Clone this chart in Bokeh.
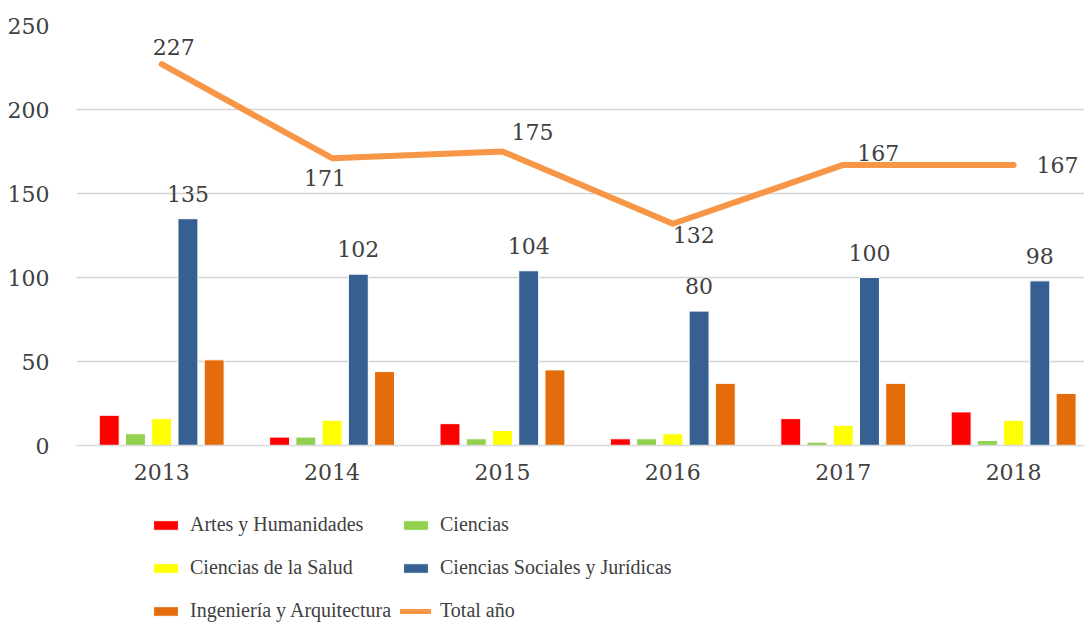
from bokeh.plotting import figure
from bokeh.layouts import column
from bokeh.models import ColumnDataSource, FixedTicker, Legend, LegendItem
from bokeh.transform import dodge
from bokeh.core.properties import value
from bokeh.embed import file_html
from bokeh.resources import INLINE

# ---- data ----
years = ["2013", "2014", "2015", "2016", "2017", "2018"]
artes = [18, 5, 13, 4, 16, 20]
ciencias = [7, 5, 4, 4, 2, 3]
salud = [16, 15, 9, 7, 12, 15]
sociales = [135, 102, 104, 80, 100, 98]
ingenieria = [51, 44, 45, 37, 37, 31]
total = [227, 171, 175, 132, 167, 167]

series_names = ["Artes y Humanidades", "Ciencias", "Ciencias de la Salud",
                "Ciencias Sociales y Jurídicas", "Ingeniería y Arquitectura"]
series_colors = ["#FF0000", "#92D050", "#FFFF00", "#376092", "#E46C0A"]
line_name = "Total año"
line_color = "#F79646"

# label placement (screen pixel offsets) for the total labels
total_dx = [12, -7, 30, 21, 35, 44]
total_dy = [-17, 20, -20, 11, -12, 0]

FONT = "DejaVu Serif"
TXT = "#404040"

xs = list(range(len(years)))
src = ColumnDataSource(dict(
    x=xs, artes=artes, ciencias=ciencias, salud=salud, sociales=sociales,
    ingenieria=ingenieria, total=total,
    total_lbl=[str(v) for v in total], soc_lbl=[str(v) for v in sociales],
    dx=total_dx, dy=total_dy,
))

p = figure(width=1084, height=490, output_backend="svg", toolbar_location=None,
           x_range=(-0.5, 5.416), y_range=(0, 250),
           min_border_left=76, min_border_right=0, min_border_top=25,
           min_border_bottom=45)
p.outline_line_color = None
p.background_fill_color = "white"
p.border_fill_color = "white"

step = 0.154
bw = 0.117
cols = ["artes", "ciencias", "salud", "sociales", "ingenieria"]
for i, (c, color) in enumerate(zip(cols, series_colors)):
    p.vbar(x=dodge("x", (i - 2) * step, range=p.x_range), top=c, width=bw,
           source=src, fill_color=color, line_color="white", line_width=1)

p.line(x="x", y="total", source=src, line_color=line_color, line_width=6,
       line_cap="round", line_join="round")

# data labels
p.text(x=dodge("x", 1 * step, range=p.x_range), y="sociales", text="soc_lbl", source=src,
       text_font=value(FONT), text_font_size="22px", text_color=TXT,
       text_align="center", text_baseline="middle", y_offset=-25)
p.text(x="x", y="total", text="total_lbl", source=src, x_offset="dx", y_offset="dy",
       text_font=value(FONT), text_font_size="22px", text_color=TXT,
       text_align="center", text_baseline="middle")

# axes
p.xaxis.ticker = FixedTicker(ticks=xs)
p.xaxis.major_label_overrides = {i: y for i, y in enumerate(years)}
p.xaxis.major_tick_line_color = None
p.xaxis.minor_tick_line_color = None
p.xaxis.axis_line_color = "#D9D9D9"
p.xaxis.axis_line_width = 1.5
p.xaxis.major_label_standoff = 12
p.yaxis.ticker = FixedTicker(ticks=[0, 50, 100, 150, 200, 250])
p.yaxis.major_tick_line_color = None
p.yaxis.minor_tick_line_color = None
p.yaxis.axis_line_color = None
p.yaxis.major_label_standoff = 21
for ax in (p.xaxis, p.yaxis):
    ax.major_label_text_font = FONT
    ax.major_label_text_font_size = "22px"
    ax.major_label_text_color = TXT
p.xgrid.grid_line_color = None
p.ygrid.grid_line_color = "#D4D4D4"
p.ygrid.grid_line_width = 1.5

# ---- legend strip (its glyphs lie outside its own visible range) ----
q = figure(width=1084, height=133, output_backend="svg", toolbar_location=None,
           x_range=(0, 1), y_range=(1000, 1001), min_border=0)
q.axis.visible = False
q.grid.grid_line_color = None
q.outline_line_color = None
swatches = []
for c, color in zip(cols, series_colors):
    swatches.append(q.vbar(x="x", top=c, width=0.1, source=src, fill_color=color,
                           line_color="white", line_width=1))
swatches.append(q.line(x="x", y="total", source=src, line_color=line_color,
                       line_width=5, line_cap="round"))
names = series_names + [line_name]

def make_legend(idx, x):
    items = [LegendItem(label=names[k], renderers=[swatches[k]]) for k in idx]
    return Legend(items=items, location=(x, 0), orientation="vertical",
                  label_text_font="Liberation Serif", label_text_font_size="20px",
                  label_text_color=TXT, glyph_width=31, glyph_height=12,
                  label_height=25, label_standoff=9, spacing=18, padding=0,
                  margin=0, border_line_color=None, background_fill_alpha=0)

q.add_layout(make_legend([0, 2, 4], 74), "center")
q.add_layout(make_legend([1, 3, 5], 324), "center")

open("out.html", "w").write(file_html(column(p, q, spacing=0), INLINE))
